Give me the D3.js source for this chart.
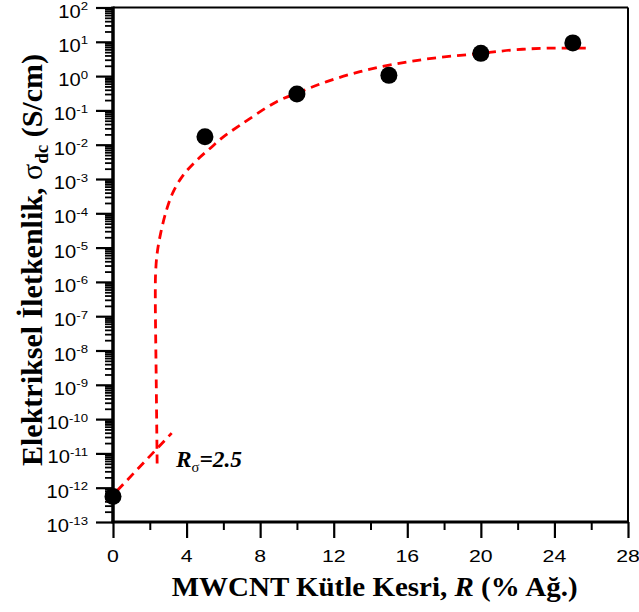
<!DOCTYPE html>
<html>
<head>
<meta charset="utf-8">
<script src="https://cdn.jsdelivr.net/npm/d3@7"></script>
<style>
  html, body { margin: 0; padding: 0; background: #fff; }
  svg { display: block; }
</style>
</head>
<body>
<svg id="chart" width="639" height="612"></svg>
<script>
// ---- data ----
const massFraction = [0, 5, 10, 15, 20, 25];
const conductivity = [5.5e-13, 0.017, 0.30, 1.05, 4.6, 9.3];

// percolation fit, above threshold
const fitR     = [2.40, 2.35, 2.30, 2.32, 2.40, 2.59, 2.92, 3.28, 3.82, 4.55, 5.29, 6.00, 6.91, 8.90, 10.08, 11.62, 13.43, 15.24, 17.33, 20.01, 21.77, 23.58, 25.76];
const fitSigma = [5.1e-12, 1.4e-9, 5.0e-7, 2.0e-6, 6.8e-6, 2.6e-5, 1.3e-4, 4.3e-4, 1.3e-3, 3.5e-3, 7.9e-3, 0.017, 0.037, 0.18, 0.33, 0.69, 1.35, 2.2, 3.3, 4.6, 5.8, 6.5, 6.5];
// fit below threshold
const lowR     = [-0.34, 3.19];
const lowSigma = [3.9e-13, 3.9e-11];

const xMajorTicks = [0, 4, 8, 12, 16, 20, 24, 28];
const xMinorTicks = [2, 6, 10, 14, 18, 22, 26];
const yExponents  = [2, 1, 0, -1, -2, -3, -4, -5, -6, -7, -8, -9, -10, -11, -12, -13];

const thresholdLabel = "2.5";
const xTitle = ["MWCNT Kütle Kesri, ", "R", " (% Ağ.)"];
const yTitle = ["Elektriksel İletkenlik,  ", "σ", "dc", " (S/cm)"];

// ---- scales ----
const svg = d3.select("#chart");
const x = d3.scaleLinear().domain([0, 28]).range([113, 628]);
const y = d3.scaleLog().domain([1e-13, 1e2]).range([522, 7.5]);

const yMajor = yExponents.map(e => Math.pow(10, e));
const yMinor = [];
yExponents.slice(1).forEach(e => { for (let k = 2; k <= 9; k++) yMinor.push(k * Math.pow(10, e)); });

// ---- frame (top & right) ----
svg.append("line").attr("x1", x(0)).attr("x2", x(28)).attr("y1", y(1e2)).attr("y2", y(1e2))
  .attr("stroke", "#000").attr("stroke-width", 2);
svg.append("line").attr("x1", x(28)).attr("x2", x(28)).attr("y1", y(1e2)).attr("y2", y(1e-13))
  .attr("stroke", "#000").attr("stroke-width", 2);

// ---- axes ----
function styleAxis(g, w) {
  g.select(".domain").remove();
  g.selectAll(".tick line").attr("stroke", "#000").attr("stroke-width", w);
  g.selectAll(".tick text").remove();
}
svg.append("g").attr("transform", `translate(0,${y(1e-13)})`)
  .call(d3.axisBottom(x).tickValues(xMinorTicks).tickSize(8).tickSizeOuter(0)).call(g => styleAxis(g, 2));
svg.append("g").attr("transform", `translate(0,${y(1e-13)})`)
  .call(d3.axisBottom(x).tickValues(xMajorTicks).tickSize(16).tickSizeOuter(0)).call(g => styleAxis(g, 2.2));
svg.append("g").attr("transform", `translate(${x(0)},0)`)
  .call(d3.axisLeft(y).tickValues(yMinor).tickSize(8).tickSizeOuter(0)).call(g => styleAxis(g, 1.8));
svg.append("g").attr("transform", `translate(${x(0)},0)`)
  .call(d3.axisLeft(y).tickValues(yMajor).tickSize(17).tickSizeOuter(0)).call(g => styleAxis(g, 2.2));

// axis lines (thick)
svg.append("line").attr("x1", x(0) - 1.5).attr("x2", x(28)).attr("y1", y(1e-13)).attr("y2", y(1e-13))
  .attr("stroke", "#000").attr("stroke-width", 3);
svg.append("line").attr("x1", x(0)).attr("x2", x(0)).attr("y1", y(1e2) - 1).attr("y2", y(1e-13))
  .attr("stroke", "#000").attr("stroke-width", 3.5);

// ---- tick labels ----
svg.append("g").selectAll("text").data(xMajorTicks).join("text")
  .attr("transform", d => `translate(${x(d)},562) scale(1.25,1)`)
  .attr("text-anchor", "middle")
  .attr("font-family", "'Liberation Sans', Arial, sans-serif")
  .attr("font-size", 17)
  .text(d => d);

const yl = svg.append("g").selectAll("text").data(yExponents).join("text")
  .attr("transform", e => `translate(88,${y(Math.pow(10, e)) + 10}) scale(1.15,1)`)
  .attr("text-anchor", "end")
  .attr("font-family", "'Liberation Sans', Arial, sans-serif")
  .attr("font-size", 17.5);
yl.append("tspan").text("10");
yl.append("tspan").attr("font-size", 11.5).attr("dy", -7.5).text(e => e < 0 ? "-" + (-e) : e);

// ---- fit curves ----
const lineGen = d3.line().x(d => x(d[0])).y(d => y(d[1])).curve(d3.curveCatmullRom.alpha(0.5));
svg.append("path")
  .attr("d", lineGen(fitR.map((r, i) => [r, fitSigma[i]])))
  .attr("fill", "none").attr("stroke", "#ff0000").attr("stroke-width", 2.8)
  .attr("stroke-dasharray", "9,6");
svg.append("path")
  .attr("d", d3.line().x(d => x(d[0])).y(d => y(d[1]))(lowR.map((r, i) => [r, lowSigma[i]])))
  .attr("fill", "none").attr("stroke", "#ff0000").attr("stroke-width", 2.8)
  .attr("stroke-dasharray", "9,6");

// ---- points ----
svg.append("g").selectAll("circle").data(massFraction).join("circle")
  .attr("cx", d => x(d)).attr("cy", (d, i) => y(conductivity[i]))
  .attr("r", 8.5).attr("fill", "#000");

// ---- threshold label ----
const tl = svg.append("text").attr("x", 176).attr("y", 467)
  .attr("font-family", "'Liberation Serif', 'Times New Roman', serif")
  .attr("font-weight", "bold").attr("font-style", "italic").attr("font-size", 24)
  .attr("textLength", 66).attr("lengthAdjust", "spacingAndGlyphs");
tl.append("tspan").text("R");
tl.append("tspan").attr("font-size", 15).attr("font-weight", "normal").attr("font-style", "normal").attr("dy", 5).text("σ");
tl.append("tspan").attr("dy", -5).text("=" + thresholdLabel);

// ---- axis titles ----
const xt = svg.append("text").attr("x", 171.7).attr("y", 596)
  .attr("font-family", "'Liberation Serif', 'Times New Roman', serif")
  .attr("font-weight", "bold").attr("font-size", 28)
  .attr("textLength", 406).attr("lengthAdjust", "spacingAndGlyphs");
xt.append("tspan").text(xTitle[0]);
xt.append("tspan").attr("font-style", "italic").text(xTitle[1]);
xt.append("tspan").text(xTitle[2]);

const yt = svg.append("text")
  .attr("transform", "translate(42,466) rotate(-90)")
  .attr("font-family", "'Liberation Serif', 'Times New Roman', serif")
  .attr("font-weight", "bold").attr("font-size", 30)
  .attr("textLength", 412).attr("lengthAdjust", "spacingAndGlyphs");
yt.append("tspan").text(yTitle[0]);
yt.append("tspan").attr("font-weight", "normal").text(yTitle[1]);
yt.append("tspan").attr("font-size", 19).attr("dy", 6).text(yTitle[2]);
yt.append("tspan").attr("dy", -6).text(yTitle[3]);
</script>
</body>
</html>
